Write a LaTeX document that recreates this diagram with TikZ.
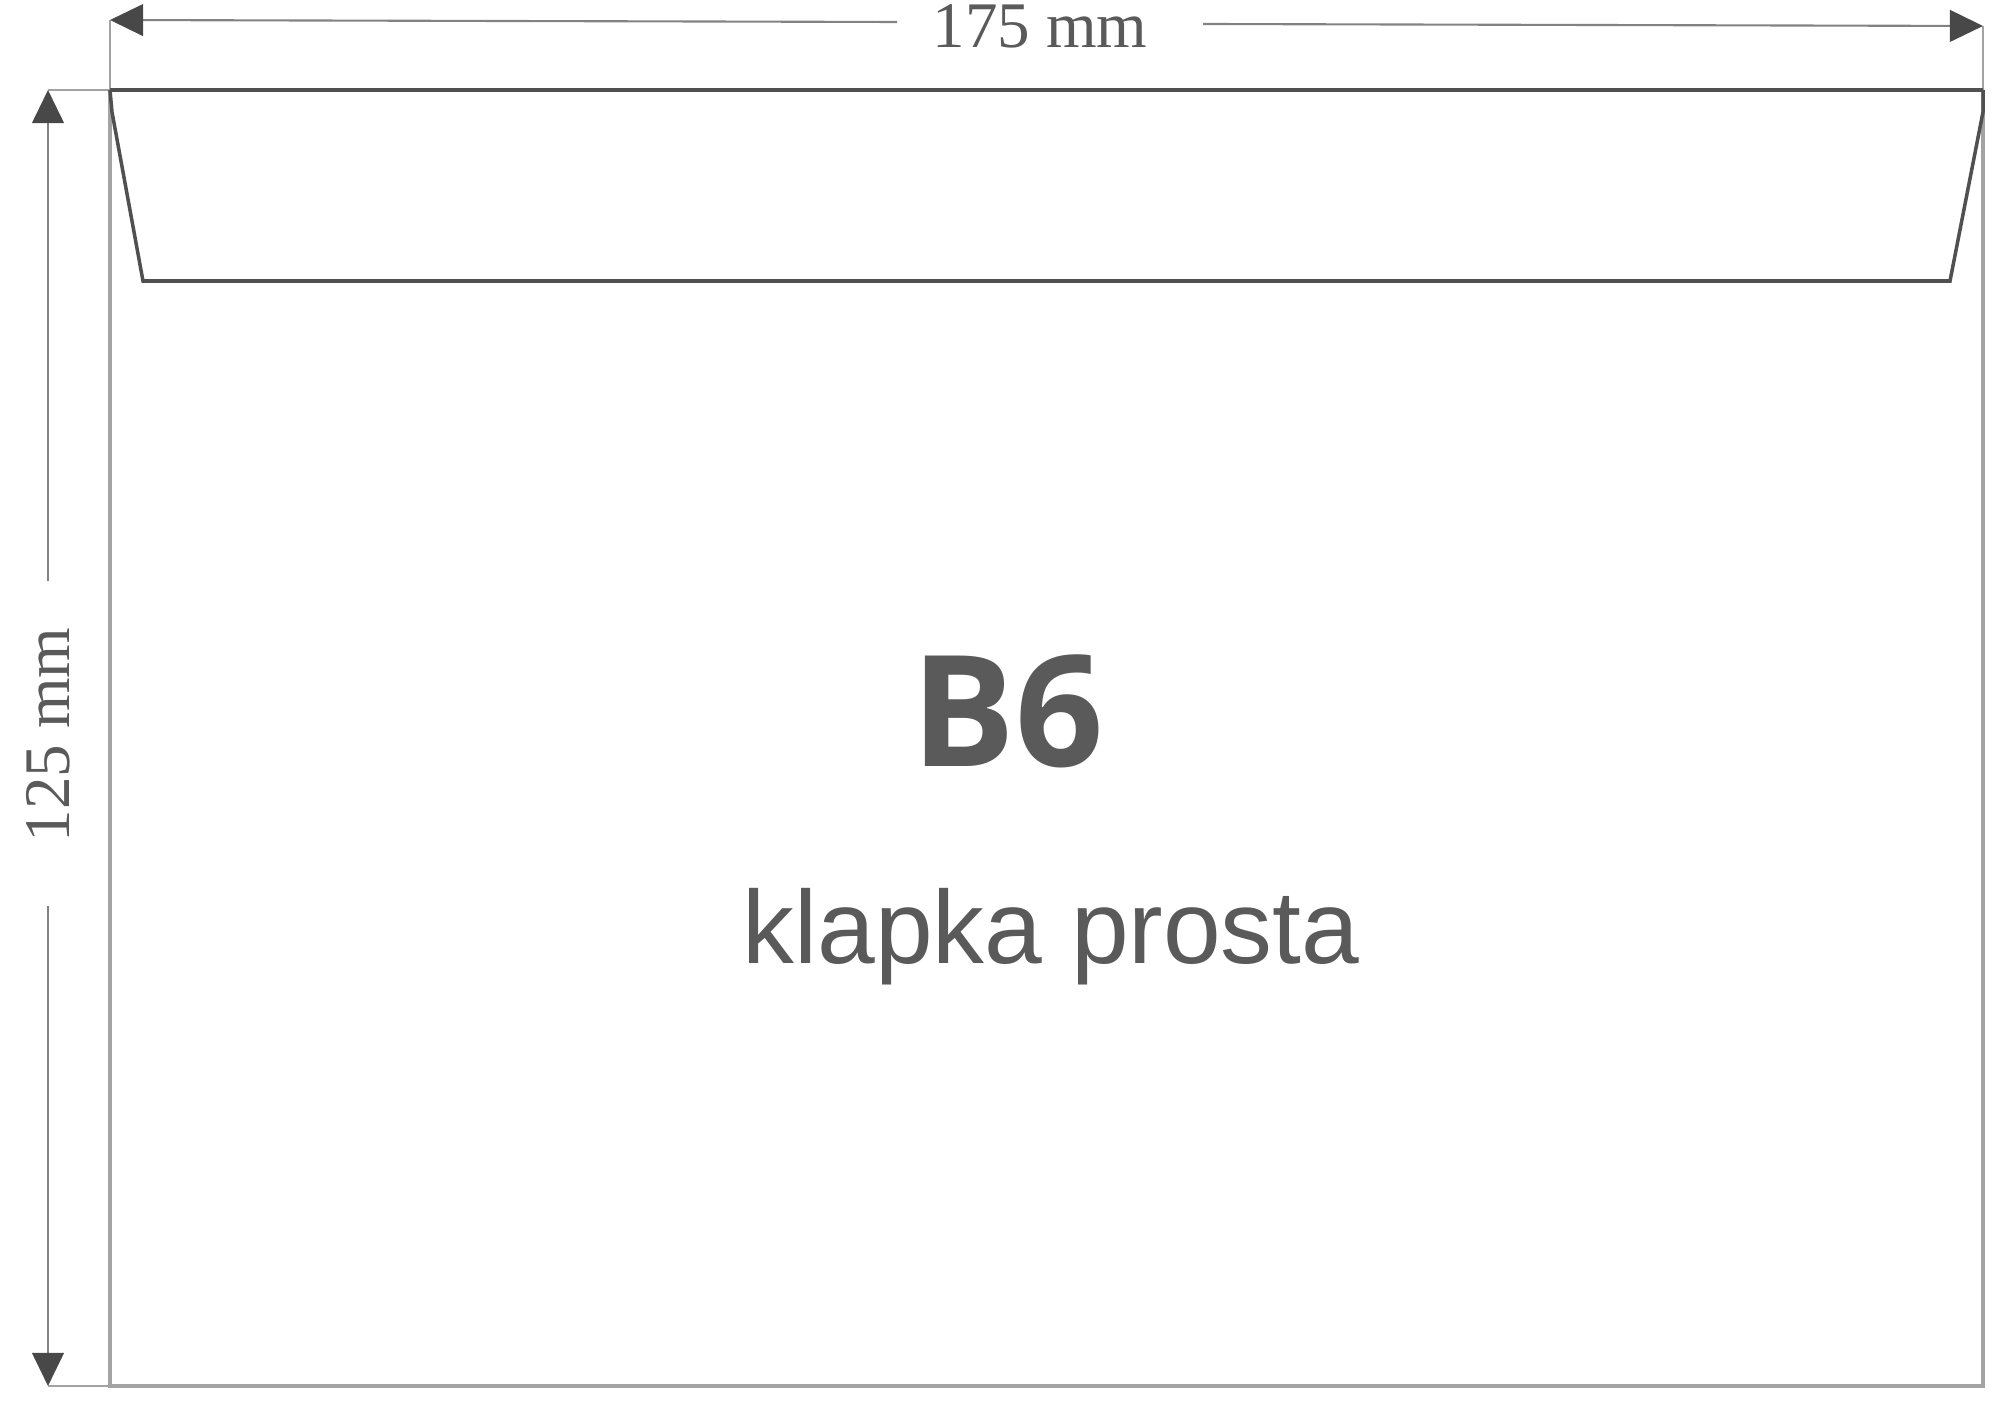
\documentclass[tikz,border=0pt]{standalone}
\usepackage{fontspec}
\setmainfont{Liberation Serif}
\newfontfamily\labelfont{Liberation Sans}
\newfontfamily\titlefont{Open Sans}
\usetikzlibrary{arrows.meta}
\definecolor{edgegray}{HTML}{A3A3A3}
\definecolor{darkline}{HTML}{505050}
\definecolor{textgray}{HTML}{5A5A5A}

\begin{document}
\begin{tikzpicture}[x=0.01cm, y=-0.01cm,
	dimline/.style={draw=edgegray!80!black, line width=0.6pt},
	dimarrow/.style={dimline, -{Triangle[length=9.4pt, width=9pt, color=darkline!90!black]}},
	sideedge/.style={draw=edgegray, line width=1.1pt},
	flapline/.style={draw=darkline, line width=1pt, line join=miter},
	dimtext/.style={text=textgray, font=\fontsize{18.5}{20}\selectfont, inner sep=0pt}]
	\useasboundingbox (0,0) rectangle (2005,1422);
	% envelope corners
	\coordinate (tl) at (110,90);
	\coordinate (tr) at (1983,90);
	\coordinate (bl) at (110,1386);
	\coordinate (br) at (1983,1386);
	% flap
	\coordinate (fl1) at (112,112);
	\coordinate (fl2) at (143,281);
	\coordinate (fr2) at (1950,281);
	\coordinate (fr1) at (1983,112);
	% dimension ends
	\coordinate (htl) at (110,20);
	\coordinate (htr) at (1983,26);
	\coordinate (hgapl) at (897,22);
	\coordinate (hgapr) at (1203,24);
	\coordinate (vtop) at (48,90);
	\coordinate (vbot) at (48,1386);
	\coordinate (vgapt) at (48,581);
	\coordinate (vgapb) at (48,906);
	% extension lines
	\draw[sideedge, line width=0.5pt] (tl) -- (htl);
	\draw[sideedge, line width=0.5pt] (tr) -- (htr);
	\draw[sideedge, line width=0.5pt] (tl) -- (vtop);
	\draw[sideedge, line width=0.5pt] (bl) -- (vbot);
	% envelope outline
	\draw[sideedge] (tl) -- (bl) -- (br) -- (tr);
	\draw[flapline, line width=1.3pt] (tl) -- (tr);
	\draw[flapline] (tl) -- (fl1) -- (fl2) -- (fr2) -- (fr1) -- (tr);
	% dimensions
	\draw[dimarrow] (hgapl) -- (htl);
	\draw[dimarrow] (hgapr) -- (htr);
	\draw[dimarrow] (vgapt) -- (vtop);
	\draw[dimarrow] (vgapb) -- (vbot);
	\node[dimtext, anchor=base] (width) at (1040,48) {175 mm};
	\node[dimtext, anchor=base, rotate=90] (height) at (70,735) {125 mm};
	% labels
	\node[anchor=base, text=textgray, inner sep=0pt, font=\titlefont\bfseries\fontsize{44}{48}\selectfont] (size) at (1008,767) {B6};
	\node[anchor=base, text=textgray, inner sep=0pt, font=\labelfont\fontsize{29.5}{32}\selectfont] (flap) at (1051,964) {klapka prosta};
\end{tikzpicture}
\end{document}
